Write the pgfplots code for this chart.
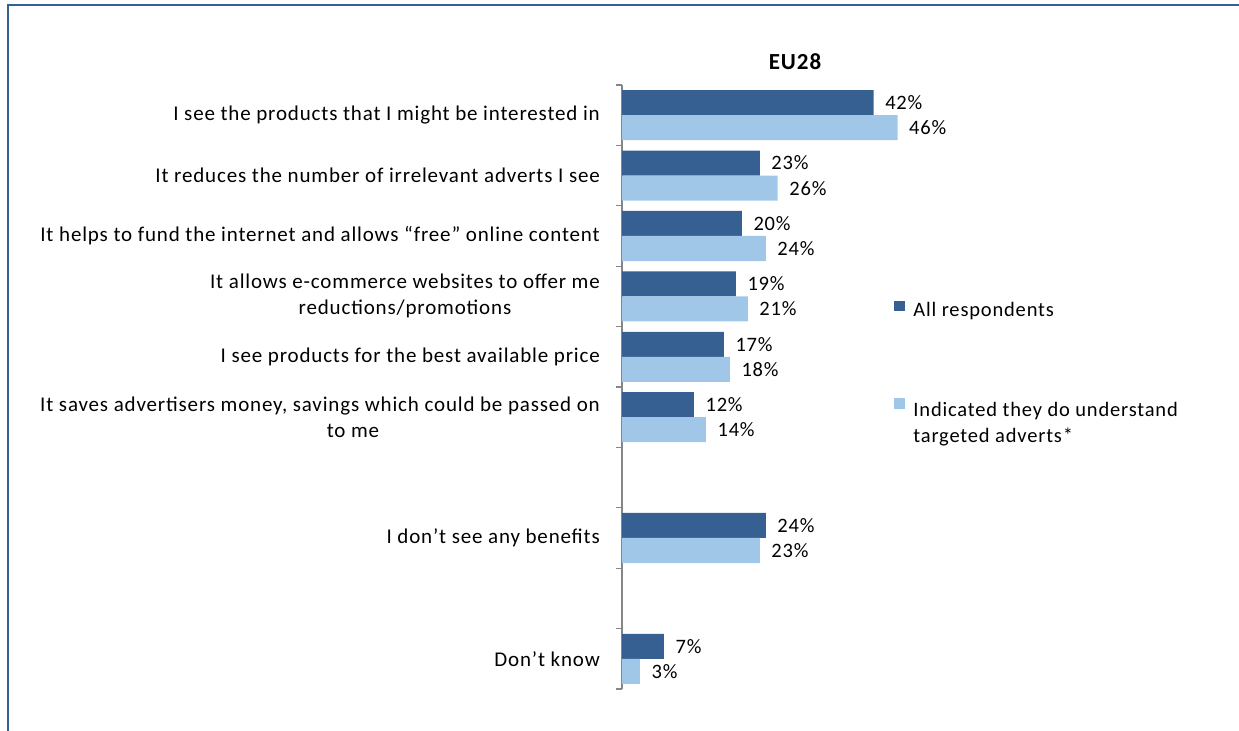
\documentclass[border=0pt]{standalone}
\usepackage{fontspec}
\setmainfont{Carlito}[LetterSpace=4]
\usepackage{pgfplots}
\pgfplotsset{compat=1.18}
\definecolor{dark}{RGB}{55,96,146}
\definecolor{light}{RGB}{160,199,232}
\definecolor{framec}{RGB}{55,96,146}
\definecolor{axgray}{RGB}{134,134,134}
\newcommand\lbl{\fontsize{21bp}{26bp}\selectfont}
\newcommand\lgd{\fontsize{20.5bp}{26bp}\selectfont}
\begin{document}
\begin{tikzpicture}[x=1bp,y=1bp]
\useasboundingbox (0,0) rectangle (1239,731);
\draw[framec, line width=2.5bp] (8,-3) -- (8,726) -- (1245,726);
\node[font=\fontsize{23bp}{27bp}\selectfont\bfseries] at (795,669) {EU28};
\begin{axis}[
  at={(622bp,42bp)}, anchor=south west,
  scale only axis, width=299.5bp, height=604bp,
  xbar, bar width=0.414,
  xmin=0, xmax=50,
  ymin=-0.5, ymax=9.5, y dir=reverse,
  hide x axis,
  axis y line*=left,
  y axis line style={draw=axgray, line width=1.2bp, -},
  ytick={0,1,2,3,4,5,7,9},
  yticklabels={
    I see the products that I might be interested in,
    It reduces the number of irrelevant adverts I see,
    {It helps to fund the internet and allows “free” online content},
    {It allows e-commerce websites to offer me\\reductions/promotions},
    I see products for the best available price,
    {It saves advertisers money, savings which could be passed on\\\hspace*{66bp}to me},
    I don’t see any benefits,
    Don’t know},
  major tick length=0pt,
  extra y ticks={-0.5,0.5,...,9.5},
  extra y tick labels={},
  extra y tick style={major tick length=6bp, tick align=outside, major tick style={draw=axgray, line width=1.2bp}},
  yticklabel style={font=\lbl, align=center, anchor=east, inner sep=0pt, xshift=-22bp},
  point meta=x,
  nodes near coords={\pgfmathprintnumber[assume math mode=true]{\pgfplotspointmeta}\%},
  nodes near coords style={font=\lgd, anchor=west, inner sep=0pt, xshift=11.5bp},
  legend style={at={(axis description cs:0.908,0.643)}, anchor=north west, draw=none, fill=none,
    inner sep=0pt, outer sep=0pt, row sep=80bp, font=\lgd, nodes={inner sep=0pt},
    /tikz/every odd column/.append style={column sep=8bp}},
  legend cell align=left,
]
\addplot[fill=dark, draw=none, bar shift=-0.207,
  legend image code/.code={\fill[dark] (0bp,-0.5bp) rectangle (11.5bp,10bp);}]
  coordinates {(42,0) (23,1) (20,2) (19,3) (17,4) (12,5) (24,7) (7,9)};
\addplot[fill=light, draw=none, bar shift=0.207,
  legend image code/.code={\fill[light] (0bp,-0.5bp) rectangle (11.5bp,10bp);}]
  coordinates {(46,0) (26,1) (24,2) (21,3) (18,4) (14,5) (23,7) (3,9)};
\legend{All respondents, {\begin{tabular}[t]{@{}l@{}}Indicated they do understand\\targeted adverts*\end{tabular}}}
\end{axis}
\end{tikzpicture}
\end{document}
